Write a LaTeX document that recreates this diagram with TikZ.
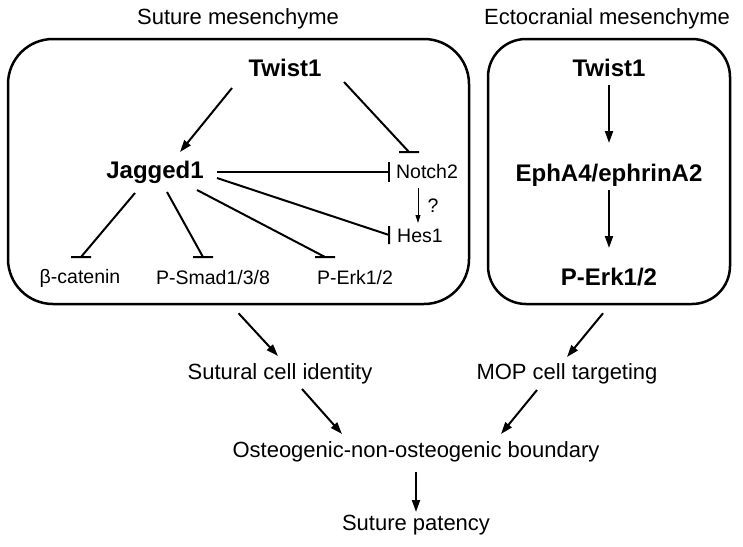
\documentclass[tikz,border=0pt]{standalone}
\usepackage{fontspec}
\setmainfont{Liberation Sans}
\usetikzlibrary{arrows.meta}

\tikzset{
	gene/.style={font=\fontsize{24}{28}\selectfont\bfseries, inner sep=0pt},
	small/.style={font=\fontsize{19.5}{23}\selectfont, inner sep=0pt},
	lab/.style={font=\fontsize{22}{26}\selectfont, inner sep=0pt},
	compart/.style={draw, line width=2.5pt, inner sep=0pt},
	act/.style={line width=2pt, -{Triangle[length=12pt,width=8pt]}},
	inh/.style={line width=2pt},
}

\begin{document}
\begin{tikzpicture}[x=1pt,y=-1pt]
	\useasboundingbox (0,0) rectangle (743,546);
	%
	\node[compart, rounded corners=45pt, minimum width=461pt, minimum height=265pt] (sm) at (238.5,171.5) {};
	\node[compart, rounded corners=38pt, minimum width=242pt, minimum height=265pt] (ec) at (609,171.5) {};
	\node[lab] (smt) at (238,19) {Suture mesenchyme};
	\node[lab] (ect) at (607,19) {Ectocranial mesenchyme};
	%
	\node[gene] (tw1) at (285,68) {Twist1};
	\node[gene] (jag) at (155,172) {Jagged1};
	\node[small] (notch) at (427,172) {Notch2};
	\node[small] (hes) at (420,236) {Hes1};
	\node[small] (bcat) at (80,278) {β-catenin};
	\node[small] (psmad) at (213,278) {P-Smad1/3/8};
	\node[small] (perk) at (355,278) {P-Erk1/2};
	\node[small] (q) at (433,206) {?};
	%
	\node[gene] (tw2) at (609,68) {Twist1};
	\node[gene] (eph) at (609,175) {EphA4/ephrinA2};
	\node[gene] (perk2) at (609,277) {P-Erk1/2};
	%
	\node[lab] (sut) at (280,374) {Sutural cell identity};
	\node[lab] (mop) at (567,374) {MOP cell targeting};
	\node[lab] (ost) at (416,452) {Osteogenic-non-osteogenic boundary};
	\node[lab] (pat) at (416,525) {Suture patency};
	%
	\draw[act] ([shift={(-53,20)}]tw1.center) -- ([shift={(25,-20)}]jag.center);
	\draw[inh] ([shift={(59,14)}]tw1.center) -- ([shift={(-18,-20)}]notch.center) ++(-10,0) -- ++(20,0);
	\draw[inh] ([shift={(62,0)}]jag.center) -- ([shift={(-38,0)}]notch.center) ++(0,-10) -- ++(0,20);
	\draw[inh] ([shift={(62,6)}]jag.center) -- ([shift={(-31,-1)}]hes.center) ++(0,-9) -- ++(0,18);
	\draw[inh] ([shift={(-20,21)}]jag.center) -- ([shift={(1,-21)}]bcat.center) ++(-10,0) -- ++(20,0);
	\draw[inh] ([shift={(12,20)}]jag.center) -- ([shift={(-10,-21)}]psmad.center) ++(-10,0) -- ++(20,0);
	\draw[inh] ([shift={(42,18)}]jag.center) -- ([shift={(-30,-21)}]perk.center) ++(-10,0) -- ++(20,0);
	\draw[line width=1pt, -{Triangle[length=8pt,width=5pt]}] ([shift={(-9,16)}]notch.center) -- ([shift={(-2,-13)}]hes.center);
	%
	\draw[act] ([shift={(0,17)}]tw2.center) -- ([shift={(0,-32)}]eph.center);
	\draw[act] ([shift={(0,15)}]eph.center) -- ([shift={(0,-29)}]perk2.center);
	%
	\draw[act] ([yshift=-8pt]sm.south) -- ([shift={(-2,-18)}]sut.center);
	\draw[act] ([xshift=-6pt,yshift=-8pt]ec.south) -- ([shift={(0,-17)}]mop.center);
	\draw[act] ([shift={(22,15)}]sut.center) -- ([shift={(-74,-18)}]ost.center);
	\draw[act] ([shift={(-30,16)}]mop.center) -- ([shift={(85,-18)}]ost.center);
	\draw[act] ([shift={(0,20)}]ost.center) -- ([shift={(0,-13)}]pat.center);
\end{tikzpicture}
\end{document}
